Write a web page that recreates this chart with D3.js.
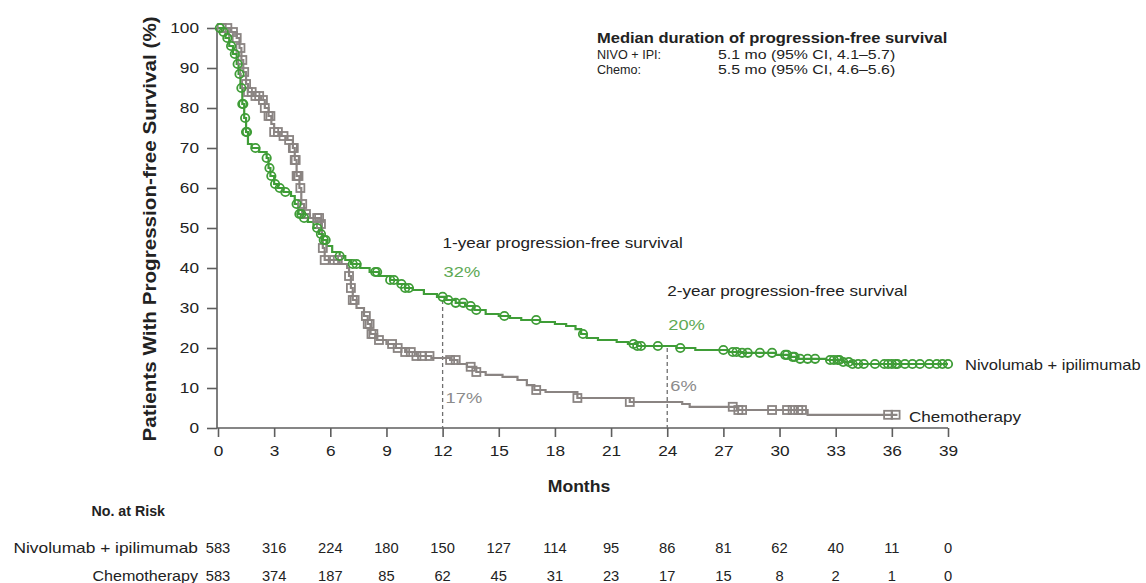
<!DOCTYPE html>
<html>
<head>
<meta charset="utf-8">
<script src="https://cdn.jsdelivr.net/npm/d3@7"></script>
<style>
  html, body { margin: 0; padding: 0; background: #ffffff; }
  svg { display: block; font-family: "Liberation Sans", Arial, Helvetica, sans-serif; }
</style>
</head>
<body>
<svg id="chart" width="1146" height="583"></svg>
<script>
// Kaplan-Meier step data: [month, % progression-free] at each drop
const nivoIpiSteps = [
  [0,100],[0.2,99],[0.4,97.5],[0.6,95.5],[0.8,93.5],[1.0,91],[1.1,88.5],[1.2,85],[1.3,81],
  [1.4,77.5],[1.5,74],[1.6,71],[1.8,70],[2.2,69],[2.6,67.5],[2.7,65],[2.8,63],[3.0,61],
  [3.2,60],[3.5,59],[3.9,58],[4.1,56],[4.3,53.5],[4.5,52.5],[4.8,51.5],[5.1,50],[5.4,48.5],
  [5.6,47],[5.8,45.5],[6.1,44],[6.5,43],[6.8,42],[7.1,41],[7.6,40],[8.1,39],[8.6,38],
  [9.2,37],[9.6,36],[10.0,35],[10.4,34.5],[11.0,33.5],[11.7,32.8],[12.2,32],[12.7,31.3],
  [13.2,30.5],[13.7,29.5],[14.3,28.5],[15.0,28],[15.6,27.5],[16.2,27],[17.2,26.5],[18.0,26],
  [18.6,25.5],[19.1,24.7],[19.4,23.5],[19.7,22.5],[20.3,22],[21.3,21.5],[21.9,21],[22.4,20.5],
  [24.5,20],[25.5,19.5],[27.3,19],[28.0,18.8],[29.8,18.3],[30.5,17.8],[31.0,17.3],[32.5,17],
  [33.4,16.5],[33.9,16],[39.0,16]
];
const chemoSteps = [
  [0,100],[0.7,99],[1.0,97.5],[1.15,95],[1.25,92],[1.35,89],[1.5,86],[1.6,84],[1.9,83],
  [2.3,82],[2.5,80],[2.7,78],[2.85,76],[3.0,74],[3.3,73],[3.7,72],[4.0,70],[4.1,67],[4.2,63],
  [4.35,60],[4.45,56],[4.6,53.5],[4.9,52.5],[5.5,51],[5.55,48],[5.6,45],[5.7,42],[6.5,41],
  [6.9,40],[7.0,38],[7.1,35],[7.2,32],[7.4,30],[7.8,28],[8.0,26],[8.15,23.5],[8.5,22],
  [9.0,21],[9.5,20],[10.0,19],[10.6,18],[11.4,17.5],[12.4,17],[12.8,16],[13.3,15.3],
  [13.8,14],[14.3,13.3],[15.2,12.8],[16.0,12],[16.5,10.7],[16.9,9.5],[17.5,9],[19.2,7.5],
  [22.0,6.5],[24.8,6],[25.2,5.3],[27.8,4.5],[31.5,3.3],[36.3,3.3]
];

// Censoring times (months)
const nivoIpiCensored = [
  0.1,0.3,0.5,0.7,0.9,1.05,1.15,1.25,1.3,1.35,1.45,1.5,1.55,2.0,2.6,2.75,2.85,3.05,3.3,
  3.6,4.2,4.35,4.45,4.6,5.3,5.5,5.65,5.75,6.5,7.2,7.4,8.4,8.5,9.2,9.4,9.8,10.0,10.2,
  12.0,12.3,12.7,13.1,13.5,13.8,15.3,17.0,19.5,22.2,22.4,22.6,23.5,24.7,
  27.0,27.5,27.7,28.0,28.3,28.95,29.6,30.3,30.4,30.7,30.8,31.1,31.5,31.9,32.7,32.9,33.1,
  33.2,33.4,33.7,33.9,34.2,34.5,35.1,35.6,35.8,36.0,36.2,36.3,36.7,37.1,37.5,38.0,38.4,
  38.7,39.0
];
const chemoCensored = [
  0.2,0.5,0.8,1.0,1.2,1.3,1.4,1.5,1.6,1.8,2.0,2.2,2.4,2.5,2.7,2.8,3.0,3.2,3.5,3.8,4.0,
  4.05,4.1,4.15,4.2,4.25,4.3,4.4,4.5,4.7,5.3,5.4,5.5,5.6,5.7,6.2,6.4,7.0,7.1,7.2,7.3,
  7.9,8.0,8.1,8.2,8.3,8.6,9.3,9.6,10.0,10.3,10.6,10.9,11.3,12.4,12.7,13.5,13.8,17.0,
  19.2,22.0,27.5,27.8,28.0,29.6,30.4,30.7,31.0,31.2,35.8,36.2
];

const monthTicks = [0,3,6,9,12,15,18,21,24,27,30,33,36,39];
const survivalTicks = [0,10,20,30,40,50,60,70,80,90,100];

const riskGroups = ["Nivolumab + ipilimumab", "Chemotherapy"];
const nivoIpiAtRisk = [583,316,224,180,150,127,114,95,86,81,62,40,11,0];
const chemoAtRisk   = [583,374,187,85,62,45,31,23,17,15,8,2,1,0];

const landmarkMonths = [12, 24];
const landmarkTitles = ["1-year progression-free survival", "2-year progression-free survival"];
const landmarkNivoIpi = [32, 20];
const landmarkChemo = [17, 6];

const medianRows = [
  ["NIVO + IPI:", "5.1 mo (95% CI, 4.1\u20135.7)"],
  ["Chemo:", "5.5 mo (95% CI, 4.6\u20135.6)"]
];

// Styling
const GREEN = "#3f9d37";
const GREEN_TEXT = "#5ea955";
const GREY = "#8a8482";
const GREY_TEXT = "#8b8b8b";
const AXIS = "#5e5e5e";
const INK = "#222222";
const TICK_STRETCH = 1.15;

const svg = d3.select("#chart");

const x = d3.scaleLinear().domain([0, 39]).range([218, 948]);
const y = d3.scaleLinear().domain([0, 100]).range([428, 28]);

// Value of a step curve at time t
function stepValue(steps, t) {
  let v = steps[0][1];
  for (const [tm, s] of steps) { if (tm <= t) v = s; else break; }
  return v;
}

// Text helper; the typeface is set slightly wide, so glyphs get a horizontal stretch
function addText(parent, px, py, str, o = {}) {
  const t = parent.append("text")
    .attr("transform", `translate(${px},${py})${o.rotate ? ` rotate(${o.rotate})` : ""} scale(${o.sx || 1},1)`)
    .attr("text-anchor", o.anchor || "start")
    .attr("fill", o.fill || INK)
    .style("font-size", (o.size || 14) + "px")
    .text(str);
  if (o.bold) t.style("font-weight", "bold");
  return t;
}

// Axes
const yAxis = d3.axisLeft(y).tickValues(survivalTicks).tickSize(10).tickPadding(8);
const gy = svg.append("g").attr("transform", `translate(${x(0) - 1},0)`).call(yAxis);
gy.select(".domain").attr("stroke", AXIS).attr("stroke-width", 1.6).attr("d", `M0,${y(100)}V${y(0)}`);
gy.selectAll(".tick line").attr("stroke", AXIS).attr("stroke-width", 1.6);
gy.selectAll(".tick text").attr("fill", INK).style("font-size", "15px")
  .attr("x", -18 / TICK_STRETCH).attr("transform", `scale(${TICK_STRETCH},1)`);

const xAxis = d3.axisBottom(x).tickValues(monthTicks).tickSize(9).tickPadding(8);
const gx = svg.append("g").attr("transform", `translate(0,${y(0)})`).call(xAxis);
gx.select(".domain").attr("stroke", AXIS).attr("stroke-width", 1.6).attr("d", `M${x(0) - 1},0H${x(39)}`);
gx.selectAll(".tick line").attr("stroke", AXIS).attr("stroke-width", 1.6);
gx.selectAll(".tick text").attr("fill", INK).style("font-size", "15px")
  .attr("transform", `scale(${TICK_STRETCH},1)`);

// Axis titles
addText(svg, 156, 229, "Patients With Progression-free Survival (%)",
  { rotate: -90, anchor: "middle", size: 17.5, bold: true, sx: 1.18 });
addText(svg, 579, 492, "Months", { anchor: "middle", size: 16, bold: true, sx: 1.1 });

// Landmark dashed lines
landmarkMonths.forEach((m, i) => {
  svg.append("line")
    .attr("x1", x(m)).attr("x2", x(m))
    .attr("y1", y(landmarkNivoIpi[i])).attr("y2", y(0))
    .attr("stroke", "#6f6f6f").attr("stroke-width", 1.3)
    .attr("stroke-dasharray", "4,3");
});

// Survival curves
const line = d3.line().x(d => x(d[0])).y(d => y(d[1])).curve(d3.curveStepAfter);

svg.append("path").datum(chemoSteps)
  .attr("d", line).attr("fill", "none")
  .attr("stroke", GREY).attr("stroke-width", 2.2);

svg.append("path").datum(nivoIpiSteps)
  .attr("d", line).attr("fill", "none")
  .attr("stroke", GREEN).attr("stroke-width", 2.2);

// Censor marks
svg.append("g").selectAll("rect").data(chemoCensored).join("rect")
  .attr("x", t => x(t) - 4).attr("y", t => y(stepValue(chemoSteps, t)) - 4)
  .attr("width", 8).attr("height", 8)
  .attr("fill", "none").attr("stroke", GREY).attr("stroke-width", 1.8);

svg.append("g").selectAll("circle").data(nivoIpiCensored).join("circle")
  .attr("cx", t => x(t)).attr("cy", t => y(stepValue(nivoIpiSteps, t)))
  .attr("r", 4.2)
  .attr("fill", "none").attr("stroke", GREEN).attr("stroke-width", 1.8);

// Landmark annotations
const titleY = [248, 296];
const nivoY = [277, 330];
const chemoY = [403, 391];
landmarkMonths.forEach((m, i) => {
  addText(svg, x(m), titleY[i], landmarkTitles[i], { size: 14, sx: 1.22 });
  addText(svg, x(m) + 1, nivoY[i], landmarkNivoIpi[i] + "%", { size: 15.5, sx: 1.18, fill: GREEN_TEXT });
  addText(svg, x(m) + 3, chemoY[i], landmarkChemo[i] + "%", { size: 15.5, sx: 1.18, fill: GREY_TEXT });
});

// Curve labels
addText(svg, 965, 370, riskGroups[0], { size: 14, sx: 1.18 });
addText(svg, 909, 422, riskGroups[1], { size: 14, sx: 1.22 });

// Median PFS summary
addText(svg, 597, 43, "Median duration of progression-free survival", { size: 14, bold: true, sx: 1.18 });
medianRows.forEach((r, i) => {
  addText(svg, 597, 59 + i * 15, r[0], { size: 13, sx: 0.97 });
  addText(svg, 718, 59 + i * 15, r[1], { size: 13, sx: 1.22 });
});

// Number at risk table
addText(svg, 165, 516, "No. at Risk", { anchor: "end", size: 15, bold: true, sx: 0.95 });

const riskRows = [nivoIpiAtRisk, chemoAtRisk];
const riskY = [553, 581];
const riskLabelStretch = [1.24, 1.15];
riskRows.forEach((row, i) => {
  addText(svg, 198, riskY[i], riskGroups[i], { anchor: "end", size: 14, sx: riskLabelStretch[i] });
  const g = svg.append("g");
  row.forEach((d, j) => addText(g, x(monthTicks[j]), riskY[i], d, { anchor: "middle", size: 14, sx: 1.05 }));
});
</script>
</body>
</html>
